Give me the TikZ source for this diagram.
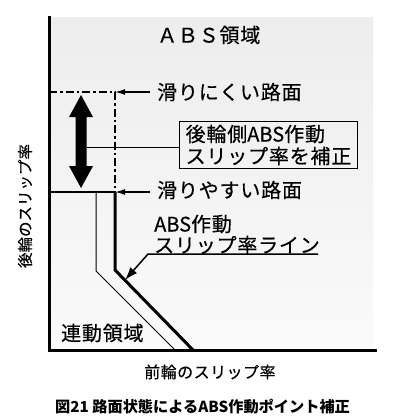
\documentclass[tikz,border=0pt]{standalone}
\usepackage{fontspec}
\newfontfamily\jp{Noto Sans CJK JP}[FakeBold=0.4]
\newfontfamily\jpw{Noto Sans CJK JP}[LetterSpace=4,FakeBold=0.4]
\newfontfamily\jpm{Noto Sans CJK JP}[LetterSpace=3,FakeBold=0.3]
\newfontfamily\jpy{Noto Sans CJK JP}[FakeBold=0.3]
\newfontfamily\jpc{Noto Sans CJK JP}
\usetikzlibrary{arrows.meta,calc}
\tikzset{
  bigtxt/.style={anchor=west,inner sep=0pt,font=\jpw\fontsize{20}{22}\selectfont},
  axis/.style={line width=3pt,line cap=rect},
  thickline/.style={line width=3pt},
  thinline/.style={line width=1pt},
  dashdot/.style={line width=2.5pt,dash pattern=on 8pt off 3pt on 2.5pt off 3pt},
  ptr/.style={line width=1.5pt,-{Latex[length=10pt,width=6pt]}},
  bigptr/.style={line width=1.5pt,-{Latex[length=13pt,width=9pt]}},
}
\begin{document}
\begin{tikzpicture}[x=1pt,y=-1pt]
\useasboundingbox (0,0) rectangle (400,420);
\fill[white] (0,0) rectangle (400,420);
\shade[top color=black!7,bottom color=black!2] (49,18) rectangle (373,350);

% axes
\coordinate (ytop) at (49,18);
\coordinate (origin) at (49,350);
\coordinate (xend) at (375,350);
\draw[axis] (ytop) -- (origin) -- (xend);

% coordinates
\coordinate (hiL) at (49,92);
\coordinate (hiC) at (115,92);
\coordinate (loL) at (49,192);
\coordinate (loC) at (115,192);
\coordinate (thinTop) at (96,192);
\coordinate (thinBend) at (96,271);
\coordinate (thinEnd) at (175,350);
\coordinate (thkBend) at (115,270);
\coordinate (thkEnd) at (193,350);

% thin line (linked region boundary)
\draw[thinline] (thinTop) -- (thinBend) -- (thinEnd);
% ABS slip-ratio line
\draw[thickline] (loC) -- (thkBend) -- (thkEnd);
% low-mu road level
\draw[line width=2.5pt] (loL) -- (loC);
% high-mu road level
\draw[dashdot] (hiL) -- (hiC) -- (loC);

% big double arrow
\fill (81,95) -- (93,117) -- (86.5,117) -- (86.5,166) -- (93,166) -- (81,188)
      -- (69,166) -- (75.5,166) -- (75.5,117) -- (69,117) -- cycle;
\coordinate (arrmid) at (86.5,147);

% texts
\node[bigtxt] (absreg) at (157,35) {ＡＢＳ領域};
\node[bigtxt] (hard) at (157,92) {滑りにくい路面};
\node[bigtxt] (easy) at (157,190) {滑りやすい路面};
\node[draw,line width=1pt,anchor=north west,minimum width=178pt,minimum height=47pt,
      inner sep=2pt,align=left,font=\jpw\fontsize{20}{22}\selectfont]
      (box) at (179,121) {後輪側{\jp ABS}作動\\スリップ率を補正};
\node[bigtxt] (abs1) at (154,224) {{\jp ABS}作動};
\node[bigtxt] (abs2) at (154,245) {スリップ率ライン};
\node[bigtxt] (link) at (61,333) {連動領域};
\node[anchor=west,inner sep=0pt,font=\jpm\fontsize{16}{18}\selectfont] (xlab) at (144,372) {前輪のスリップ率};
\node[inner sep=0pt,rotate=90,font=\jpy\fontsize{15.5}{18}\selectfont] (ylab) at (25,206) {後輪のスリップ率};
\node[anchor=west,inner sep=0pt,font=\jpc\bfseries\fontsize{15.2}{18}\selectfont] (cap) at (55,407) {図21 路面状態によるABS作動ポイント補正};

% pointers
\draw[ptr] ([xshift=-7pt]hard.west) -- (hiC);
\draw[ptr] ([xshift=-7pt]easy.west |- loC) -- (loC);
\draw[line width=1pt] (arrmid) -- (arrmid -| box.west);
\coordinate (ulS) at (148,254);
\coordinate (ulE) at (318,254);
\coordinate (tip) at (125,280);
\draw[bigptr] (ulE) -- (ulS) -- (tip);
\end{tikzpicture}
\end{document}
